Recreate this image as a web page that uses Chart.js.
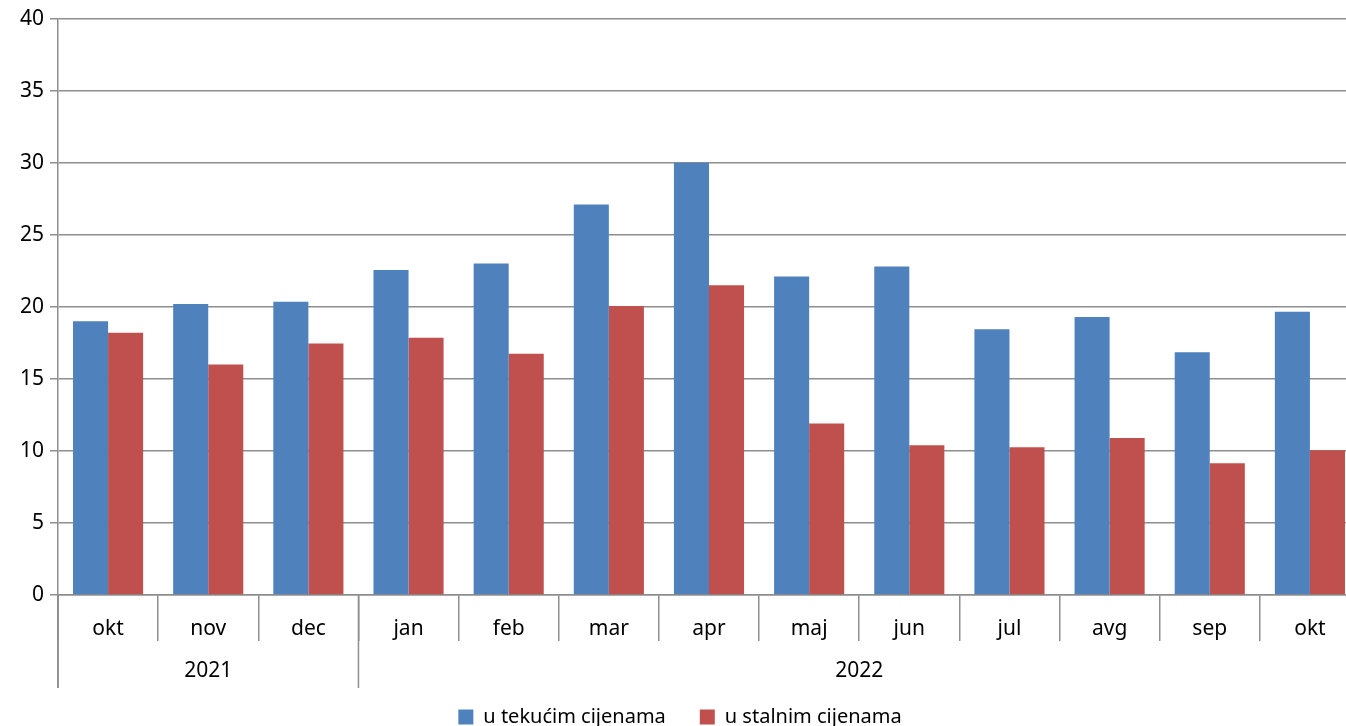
<!DOCTYPE html>
<html>
<head>
<meta charset="utf-8">
<script src="https://cdn.jsdelivr.net/npm/chart.js@4"></script>
<style>
  html, body { margin: 0; padding: 0; background: #fff; overflow: hidden; }
  .wrap { width: 1346px; height: 726px; overflow: hidden; }
</style>
</head>
<body>
<div class="wrap"><canvas id="chart" width="1360" height="737"></canvas></div>
<script>
const months = ['okt', 'nov', 'dec', 'jan', 'feb', 'mar', 'apr', 'maj', 'jun', 'jul', 'avg', 'sep', 'okt'];
const years = ['2021', '2022'];
const yearStart = [0, 3];
const yearCount = [3, 10];
const current = [19.0, 20.2, 20.35, 22.55, 23.0, 27.1, 30.0, 22.1, 22.8, 18.45, 19.3, 16.85, 19.65];
const constant = [18.2, 16.0, 17.45, 17.85, 16.75, 20.05, 21.5, 11.9, 10.4, 10.25, 10.9, 9.15, 10.05];

const font = 'Noto Sans';
const fontSize = 21;
const gridColor = '#8e8e8e';

const yearRow = {
  id: 'yearRow',
  afterDraw(chart) {
    const { ctx, chartArea, scales: { x } } = chart;
    const half = (x.getPixelForValue(1) - x.getPixelForValue(0)) / 2;
    ctx.save();
    ctx.strokeStyle = gridColor;
    ctx.lineWidth = 1.5;
    // left axis runs down past the month row
    ctx.beginPath();
    ctx.moveTo(chartArea.left, chartArea.bottom);
    ctx.lineTo(chartArea.left, chartArea.bottom + 93);
    ctx.stroke();
    ctx.font = fontSize + 'px "' + font + '"';
    ctx.fillStyle = '#000';
    ctx.textAlign = 'center';
    ctx.textBaseline = 'middle';
    years.forEach((yr, i) => {
      const a = x.getPixelForValue(yearStart[i]) - half;
      const b = x.getPixelForValue(yearStart[i] + yearCount[i] - 1) + half;
      ctx.beginPath();
      ctx.moveTo(a, chartArea.bottom);
      ctx.lineTo(a, chartArea.bottom + 93);
      ctx.stroke();
      ctx.fillText(yr, (a + b) / 2, chartArea.bottom + 76);
    });
    ctx.restore();
  }
};

new Chart(document.getElementById('chart'), {
  type: 'bar',
  data: {
    labels: months,
    datasets: [
      { label: 'u tekućim cijenama', data: current, backgroundColor: '#4F81BD' },
      { label: 'u stalnim cijenama', data: constant, backgroundColor: '#C0504D' }
    ]
  },
  options: {
    responsive: false,
    animation: false,
    categoryPercentage: 0.7,
    barPercentage: 1.0,
    layout: { padding: { top: 18, right: 0, left: 0, bottom: 0 } },
    plugins: {
      legend: {
        position: 'bottom',
        labels: {
          font: { family: font, size: 20 },
          color: '#000',
          boxWidth: 15,
          boxHeight: 15,
          padding: 34
        }
      },
      tooltip: { enabled: false }
    },
    scales: {
      x: {
        grid: { drawOnChartArea: false, drawTicks: true, tickLength: 46, color: gridColor, lineWidth: 1.5 },
        border: { color: gridColor, width: 1.5 },
        ticks: { font: { family: font, size: fontSize }, color: '#000', padding: -25 },
        afterFit(scale) { scale.height = 78; }
      },
      y: {
        min: 0,
        max: 40,
        ticks: { stepSize: 5, font: { family: font, size: fontSize }, color: '#000', padding: 6 },
        grid: { color: gridColor, lineWidth: 1.5, tickLength: 8 },
        border: { color: gridColor, width: 1.5 },
        afterFit(scale) { scale.width = 58; }
      }
    }
  },
  plugins: [yearRow]
});
</script>
</body>
</html>
